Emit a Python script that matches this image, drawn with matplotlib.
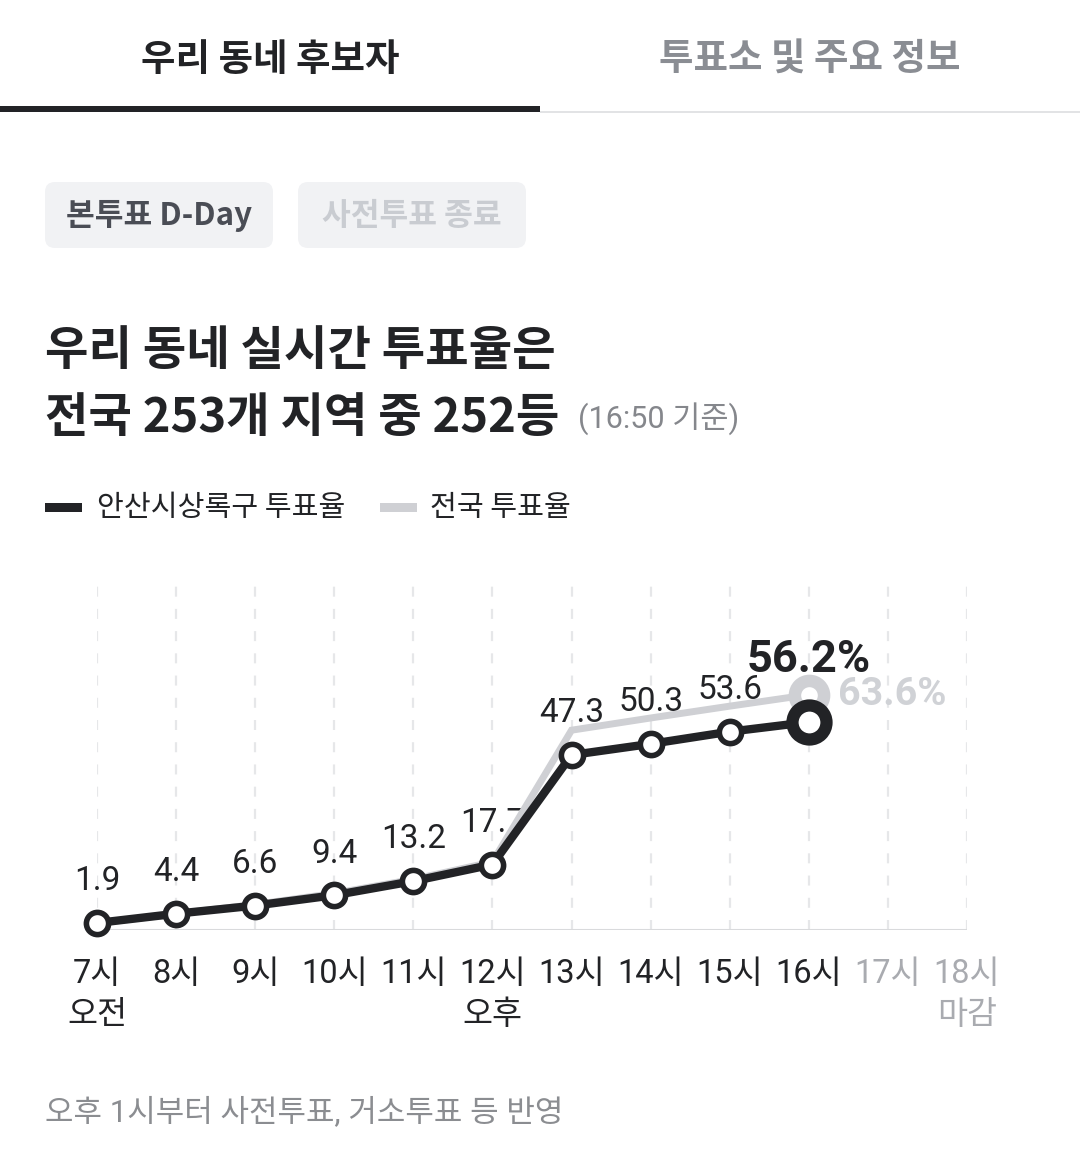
import matplotlib.pyplot as plt
from matplotlib.patches import FancyBboxPatch, Rectangle

# 시간대별 투표율 (%)
hours = [7, 8, 9, 10, 11, 12, 13, 14, 15, 16]
local_rate = [1.9, 4.4, 6.6, 9.4, 13.2, 17.7, 47.3, 50.3, 53.6, 56.2]
national_rate = [1.8, 4.4, 6.9, 9.9, 13.7, 18.4, 54.0, 57.3, 60.5, 63.6]
tick_hours = list(range(7, 19))
tick_labels = [f'{h}시' for h in tick_hours]
sub_labels = {7: '오전', 12: '오후', 18: '마감'}
local_name = '안산시상록구 투표율'
national_name = '전국 투표율'

KR = ['Noto Sans CJK KR', 'DejaVu Sans']
NUM = ['Roboto', 'Noto Sans CJK KR', 'DejaVu Sans']
BLACK = '#222326'
GRAY_LINE = '#cfd0d4'
MUTED = '#a9abb0'

fig = plt.figure(figsize=(10.8, 11.61), dpi=100)
fig.patch.set_facecolor('white')

# page elements, drawn in pixel coordinates
ov = fig.add_axes([0, 0, 1, 1])
ov.set_xlim(0, 1080)
ov.set_ylim(1161, 0)
ov.axis('off')

ov.text(270, 59, '우리 동네 후보자', ha='center', va='center', fontsize=27,
        fontweight='bold', color=BLACK, family=KR)
ov.text(810, 59, '투표소 및 주요 정보', ha='center', va='center', fontsize=27,
        fontweight='bold', color='#8a8d93', family=KR)
ov.add_patch(Rectangle((540, 111), 540, 1.5, color='#e2e3e5', lw=0))
ov.add_patch(Rectangle((0, 106), 540, 5.5, color=BLACK, lw=0))

for x0, label, col in [(45, '본투표 D-Day', '#4a4d55'), (298, '사전투표 종료', '#c9ccd1')]:
    ov.add_patch(FancyBboxPatch((x0, 182), 228, 66,
                                boxstyle='round,pad=0,rounding_size=10',
                                fc='#f1f2f4', ec='none'))
    ov.text(x0 + 114, 216, label, ha='center', va='center', fontsize=22.5,
            fontweight='bold', color=col, family=KR)

ov.text(45, 351, '우리 동네 실시간 투표율은', ha='left', va='center', fontsize=34,
        fontweight='bold', color=BLACK, family=KR)
ov.text(45, 418, '전국 253개 지역 중 252등', ha='left', va='center', fontsize=34,
        fontweight='bold', color=BLACK, family=KR)
ov.text(578, 419, '(16:50 기준)', ha='left', va='center', fontsize=22,
        color='#85878c', family=NUM)

ov.add_patch(Rectangle((45, 503), 37, 9, color=BLACK, lw=0))
ov.text(97, 508, local_name, ha='left', va='center', fontsize=21,
        color=BLACK, family=KR)
ov.add_patch(Rectangle((380, 503), 37, 9, color=GRAY_LINE, lw=0))
ov.text(430, 508, national_name, ha='left', va='center', fontsize=21,
        color=BLACK, family=KR)

ov.text(45, 1112, '오후 1시부터 사전투표, 거소투표 등 반영', ha='left', va='center',
        fontsize=22.3, color='#8b8d91', family=NUM)

# chart
ax = fig.add_axes([97 / 1080, 1 - 930 / 1161, 870 / 1080, 352 / 1161])
ax.set_xlim(7, 18)
ax.set_ylim(0, 352 / 3.7)
ax.axis('off')

ax.vlines(tick_hours, 0, 352 / 3.7, colors='#e6e7e9', lw=1.6,
          linestyles=(0, (4.5, 5.5)), zorder=1)
ax.plot([7, 18], [0, 0], color='#d9dadc', lw=2.2, zorder=1.5, solid_capstyle='butt')

ax.plot(hours, national_rate, color=GRAY_LINE, lw=5, zorder=2,
        solid_joinstyle='miter')
ax.plot(hours[-1], national_rate[-1], 'o', ms=21, mfc='white', mec=GRAY_LINE,
        mew=9, zorder=2.5, clip_on=False)

ax.plot(hours, local_rate, color=BLACK, lw=6, zorder=3, solid_joinstyle='round')
ax.plot(hours[:-1], local_rate[:-1], 'o', ms=16, mfc='white', mec=BLACK,
        mew=4, zorder=4, clip_on=False)
ax.plot(hours[-1], local_rate[-1], 'o', ms=24.5, mfc='white', mec=BLACK,
        mew=8.8, zorder=4, clip_on=False)

for h, v in zip(hours[:-1], local_rate[:-1]):
    ax.annotate(f'{v:.1f}', (h, v), xytext=(0, 30), textcoords='offset points',
                ha='center', va='center', fontsize=24, color=BLACK,
                family=NUM, zorder=1.8)
ax.annotate(f'{local_rate[-1]:.1f}%', (hours[-1], local_rate[-1]), xytext=(0, 45),
            textcoords='offset points', ha='center', va='center', fontsize=32.5,
            fontweight='bold', color=BLACK, family=NUM, zorder=5)
ax.annotate(f'{national_rate[-1]:.1f}%', (hours[-1], national_rate[-1]),
            xytext=(21, 0), textcoords='offset points', ha='left', va='center',
            fontsize=28.4, fontweight='bold', color='#d0d2d6', family=NUM, zorder=5)

for h, lab in zip(tick_hours, tick_labels):
    col = BLACK if h <= hours[-1] else MUTED
    ax.annotate(lab, (h, 0), xytext=(0, -31.5), textcoords='offset points',
                ha='center', va='center', fontsize=23.5, color=col, family=NUM,
                annotation_clip=False)
    if h in sub_labels:
        ax.annotate(sub_labels[h], (h, 0), xytext=(0, -61.5), textcoords='offset points',
                    ha='center', va='center', fontsize=23.5, color=col, family=NUM,
                    annotation_clip=False)

fig.savefig('out.png', dpi=100, facecolor='white')
